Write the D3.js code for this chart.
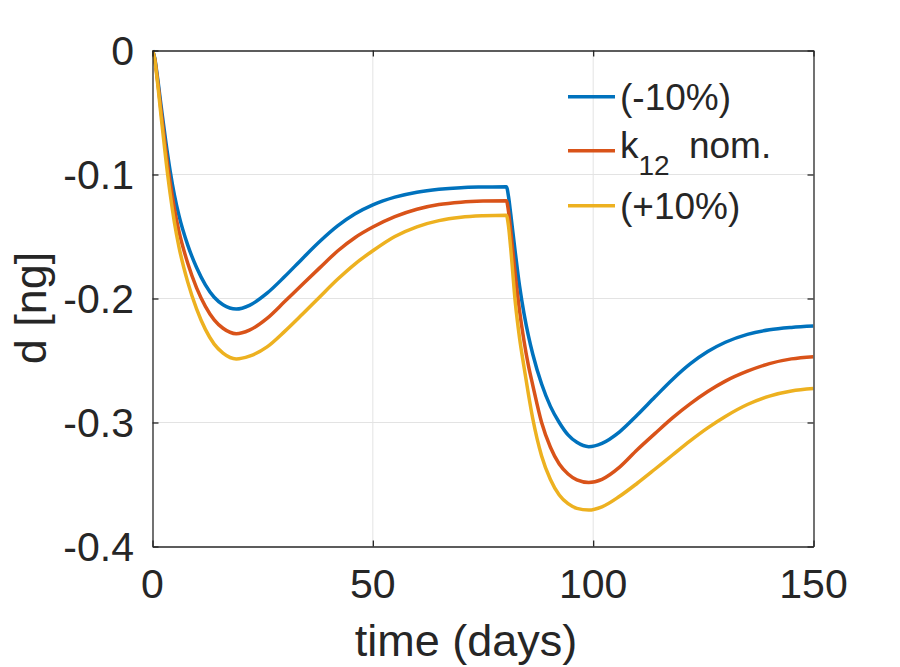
<!DOCTYPE html>
<meta charset="utf-8">
<html>
<head>
<title>d vs time</title>
<script src="https://cdn.jsdelivr.net/npm/d3@7"></script>
<style>
  body { margin: 0; background: #fff; }
  text { font-family: "Liberation Sans", Arial, sans-serif; fill: #262626; }
</style>
</head>
<body>
<script>
// time samples (days)
var time = [0, 0.5, 1, 2, 3, 4, 5, 6, 8, 10, 12, 14, 16, 19, 22, 26, 30, 34, 38, 42, 46, 50, 55, 60, 65, 70, 75, 80.3,
            80.8, 81.3, 82.3, 83.3, 84.3, 85.3, 86.3, 88.3, 90.3, 92.3, 94.3, 96.3, 99,
            102, 106, 110, 114, 118, 122, 126, 130, 135, 140, 145, 150]

// d [ng]
var dMinus10 = [0, -0.006, -0.018, -0.046, -0.073, -0.097, -0.117, -0.133, -0.157, -0.175, -0.189, -0.199, -0.205,
                -0.2085, -0.2055, -0.1957, -0.1823, -0.1679, -0.1539, -0.1415, -0.1317, -0.1245, -0.1183, -0.1143,
                -0.1119, -0.1106, -0.1101, -0.1098,
                -0.118, -0.132, -0.162, -0.190, -0.212, -0.230, -0.245, -0.269, -0.287, -0.300, -0.310, -0.316,
                -0.3195, -0.3168, -0.3075, -0.294, -0.2795, -0.2653, -0.2528, -0.2428, -0.2353, -0.2289, -0.2252,
                -0.2233, -0.2222]
var dNominal = [0, -0.0066, -0.0197, -0.0504, -0.080, -0.1062, -0.128, -0.1457, -0.1716, -0.1914, -0.2063, -0.2172,
                -0.2240, -0.2284, -0.2255, -0.2160, -0.2025, -0.1887, -0.1751, -0.1617, -0.1508, -0.1424, -0.1340,
                -0.1280, -0.1242, -0.1223, -0.1214, -0.1211,
                -0.130, -0.146, -0.180, -0.210, -0.234, -0.254, -0.270, -0.300, -0.320, -0.3335, -0.3415, -0.3462,
                -0.3483, -0.3458, -0.3360, -0.3220, -0.3090, -0.2963, -0.2850, -0.2750, -0.2666, -0.2586, -0.2525,
                -0.2487, -0.2469]
var dPlus10 = [0, -0.0072, -0.0214, -0.0547, -0.0869, -0.1154, -0.1392, -0.1583, -0.1868, -0.2083, -0.2249, -0.2368,
               -0.2440, -0.2487, -0.2465, -0.2390, -0.2265, -0.2127, -0.1985, -0.1845, -0.1720, -0.1615, -0.1500,
               -0.1422, -0.1372, -0.1345, -0.1333, -0.1328,
               -0.142, -0.160, -0.202, -0.232, -0.255, -0.277, -0.297, -0.327, -0.346, -0.3585, -0.3655, -0.3692,
               -0.3706, -0.3680, -0.3595, -0.3490, -0.3377, -0.3262, -0.3148, -0.3043, -0.2951, -0.2855, -0.2787,
               -0.2746, -0.2726]

var seriesNames = ["(-10%)", "k12 nom.", "(+10%)"]
var seriesColors = ["#0072BD", "#D95319", "#EDB120"]
var xTicks = [0, 50, 100, 150]
var yTicks = [0, -0.1, -0.2, -0.3, -0.4]
var yTickLabels = ["0", "-0.1", "-0.2", "-0.3", "-0.4"]

var W = 900, H = 667
var plotL = 152.5, plotR = 813.5, plotT = 50.5, plotB = 546.5

var svg = d3.select("body").append("svg")
    .attr("width", W)
    .attr("height", H)

var x = d3.scaleLinear().domain([0, 150]).range([plotL, plotR])
var y = d3.scaleLinear().domain([-0.4, 0]).range([plotB, plotT])

// grid
svg.append("g").selectAll("line")
    .data(xTicks.slice(1, -1)).enter()
    .append("line")
    .attr("x1", d => x(d)).attr("x2", d => x(d))
    .attr("y1", plotT).attr("y2", plotB)
    .attr("stroke", "#e3e3e3").attr("stroke-width", 1)
svg.append("g").selectAll("line")
    .data(yTicks.slice(1, -1)).enter()
    .append("line")
    .attr("x1", plotL).attr("x2", plotR)
    .attr("y1", d => y(d)).attr("y2", d => y(d))
    .attr("stroke", "#e3e3e3").attr("stroke-width", 1)

// curves
svg.append("clipPath").attr("id", "plotclip")
    .append("rect")
    .attr("x", plotL).attr("y", plotT - 2)
    .attr("width", plotR - plotL).attr("height", plotB - plotT + 2)

var line = d3.line()
    .x((d, i) => x(time[i]))
    .y(d => y(d))
    .curve(d3.curveMonotoneX)

var series = [dMinus10, dNominal, dPlus10]
svg.append("g").attr("clip-path", "url(#plotclip)")
    .selectAll("path")
    .data(series).enter()
    .append("path")
    .attr("d", d => line(d))
    .attr("fill", "none")
    .attr("stroke", (d, i) => seriesColors[i])
    .attr("stroke-width", 3.5)
    .attr("stroke-linejoin", "round")

// axes (box with inside ticks)
var xAxisB = d3.axisBottom(x).tickValues(xTicks).tickSizeInner(-6).tickSizeOuter(0).tickFormat("")
var xAxisT = d3.axisTop(x).tickValues(xTicks).tickSizeInner(-6).tickSizeOuter(0).tickFormat("")
var yAxisL = d3.axisLeft(y).tickValues(yTicks).tickSizeInner(-6).tickSizeOuter(0).tickFormat("")
var yAxisR = d3.axisRight(y).tickValues(yTicks).tickSizeInner(-6).tickSizeOuter(0).tickFormat("")

var axes = [
    svg.append("g").attr("transform", `translate(0,${plotB})`).call(xAxisB),
    svg.append("g").attr("transform", `translate(0,${plotT})`).call(xAxisT),
    svg.append("g").attr("transform", `translate(${plotL},0)`).call(yAxisL),
    svg.append("g").attr("transform", `translate(${plotR},0)`).call(yAxisR)
]
axes.forEach(g => {
    g.selectAll("path.domain").attr("stroke", "#262626").attr("stroke-width", 1.3)
    g.selectAll(".tick line").attr("stroke", "#262626").attr("stroke-width", 1.3)
})

// tick labels
svg.append("g").selectAll("text")
    .data(xTicks).enter()
    .append("text")
    .attr("x", d => x(d))
    .attr("y", 598)
    .attr("text-anchor", "middle")
    .style("font-size", "41px")
    .text(d => d)
svg.append("g").selectAll("text")
    .data(yTicks).enter()
    .append("text")
    .attr("x", 134)
    .attr("y", d => y(d) + 14.7)
    .attr("text-anchor", "end")
    .style("font-size", "41px")
    .text((d, i) => yTickLabels[i])

// axis labels
svg.append("text")
    .attr("x", 466).attr("y", 656)
    .attr("text-anchor", "middle")
    .style("font-size", "45px")
    .text("time (days)")
svg.append("text")
    .attr("transform", "translate(46,308) rotate(-90)")
    .attr("text-anchor", "middle")
    .style("font-size", "45px")
    .text("d [ng]")

// legend
var legY = [96.7, 150.7, 205.7]
var legBase = [110, 158, 218.5]
var leg = svg.append("g")
seriesNames.forEach((name, i) => {
    leg.append("line")
        .attr("x1", 568).attr("x2", 615)
        .attr("y1", legY[i]).attr("y2", legY[i])
        .attr("stroke", seriesColors[i]).attr("stroke-width", 3.5)
    var t = leg.append("text")
        .attr("x", 620).attr("y", legBase[i])
        .style("font-size", "37px")
    if (name.indexOf("k12") === 0) {
        t.append("tspan").text("k")
        t.append("tspan").attr("dy", 17).style("font-size", "28px").text("12")
        t.append("tspan").attr("dy", -17).attr("dx", 9).text(" nom.")
    } else {
        t.text(name)
    }
})
</script>
</body>
</html>
